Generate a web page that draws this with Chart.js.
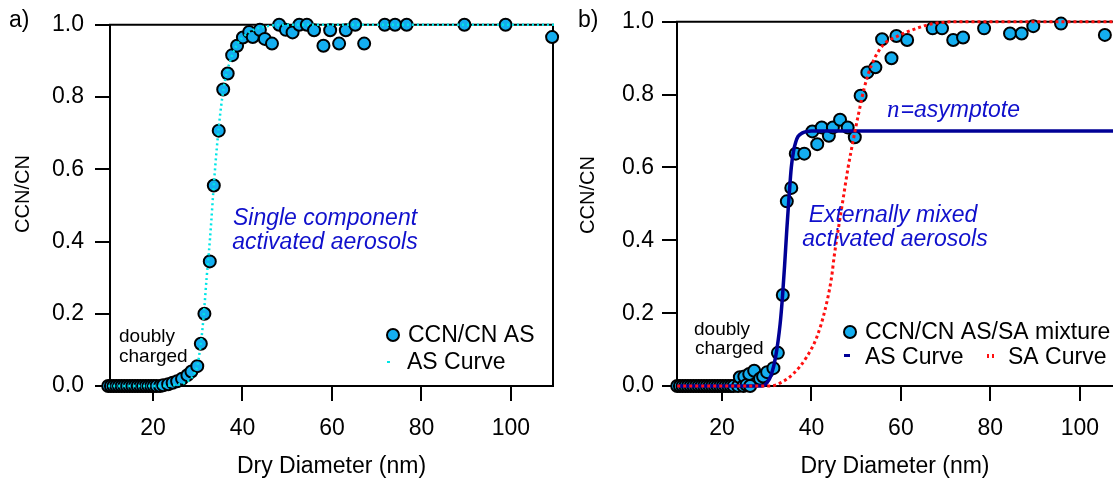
<!DOCTYPE html>
<html>
<head>
<meta charset="utf-8">
<script src="https://cdn.jsdelivr.net/npm/chart.js@4.4.1/dist/chart.umd.min.js"></script>
<style>
  html, body { margin: 0; padding: 0; background: #fff; overflow: hidden; }
  #wrap { position: relative; width: 1113px; height: 478px; }
  canvas { position: absolute; top: 0; }
  #chartA { left: 0; }
  #chartB { left: 560px; }
</style>
</head>
<body>
<div id="wrap">
  <canvas id="chartA" width="560" height="478"></canvas>
  <canvas id="chartB" width="553" height="478"></canvas>
</div>
<script>
// ---- data ----
// panel a: ammonium sulfate only
const aDiam = [10.0, 10.6, 11.2, 11.8, 12.4, 13.0, 13.6, 14.2, 14.8, 15.4, 16.0, 16.6, 17.2, 17.8, 18.4, 19.0, 19.6, 20.2, 20.8,
  21.6, 22.3, 23.4, 24.4, 25.4, 26.5, 27.7, 28.6, 29.9, 30.7, 31.5, 32.7, 33.6, 34.7, 35.7, 36.7, 37.7, 38.8, 40.1, 41.5,
  42.3, 43.9, 45.0, 46.6, 48.2, 49.7, 51.2, 52.7, 54.4, 56.0, 58.1, 59.6, 61.6, 63.1, 65.2, 67.2, 71.8, 74.1, 76.7, 89.6, 98.8, 109.2];
const aRatio = [0, 0, 0, 0, 0, 0, 0, 0, 0, 0, 0, 0, 0, 0, 0, 0, 0, 0, 0,
  0.0, 0.002, 0.005, 0.009, 0.013, 0.02, 0.03, 0.04, 0.055, 0.117, 0.2, 0.345, 0.555, 0.707, 0.821, 0.865, 0.916, 0.942, 0.965, 0.98,
  0.966, 0.986, 0.961, 0.948, 1.0, 0.986, 0.979, 1.0, 1.0, 0.985, 0.942, 0.985, 0.948, 0.985, 1.0, 0.948, 1.0, 1.0, 1.0, 1.0, 1.0, 0.966];
const aCurveDiam  = [10, 20, 26, 28, 29, 30, 30.5, 31, 31.5, 32, 32.5, 33, 33.5, 34, 34.5, 35, 35.5, 36, 37, 38, 39, 40, 42, 45, 50, 110];
const aCurveRatio = [0, 0, 0.005, 0.015, 0.03, 0.06, 0.1, 0.15, 0.22, 0.3, 0.37, 0.45, 0.54, 0.62, 0.69, 0.75, 0.8, 0.84, 0.89, 0.925, 0.95, 0.965, 0.983, 0.995, 1, 1];

// panel b: AS / SA external mixture
const bDiam = [10.0, 10.6, 11.2, 11.8, 12.4, 13.0, 13.6, 14.2, 14.8, 15.4, 16.0, 16.6, 17.2, 17.8, 18.4, 19.0, 19.6, 20.2, 20.8, 21.4, 22.0, 22.6,
  23.6, 24.0, 24.8, 25.0, 25.5, 26.1, 26.3, 27.2, 28.5, 29.2, 30.1, 31.5, 32.5, 33.6, 34.5, 35.5, 36.5, 38.4, 40.2, 41.3, 42.3, 43.9,
  44.8, 46.4, 48.1, 49.7, 51.0, 52.5, 54.3, 55.8, 57.9, 59.0, 61.4, 67.1, 69.2, 71.7, 73.9, 78.6, 84.4, 87.0, 89.6, 95.8, 105.6];
const bRatio = [0, 0, 0, 0, 0, 0, 0, 0, 0, 0, 0, 0, 0, 0, 0, 0, 0, 0, 0, 0, 0, 0,
  0, 0.024, 0.0, 0.026, 0.003, 0.033, 0.0, 0.042, 0.02, 0.026, 0.038, 0.049, 0.091, 0.25, 0.507, 0.544, 0.638, 0.638, 0.699, 0.664, 0.71, 0.687,
  0.71, 0.731, 0.71, 0.683, 0.797, 0.861, 0.875, 0.952, 0.9, 0.961, 0.95, 0.982, 0.982, 0.95, 0.957, 0.982, 0.968, 0.968, 0.988, 0.995, 0.964];
const bAsDiam  = [10, 29, 30, 31, 32, 33, 33.5, 34, 34.5, 35, 35.5, 36, 36.5, 37, 38, 39, 40, 110];
const bAsRatio = [0, 0, 0.008, 0.03, 0.08, 0.17, 0.24, 0.33, 0.43, 0.52, 0.6, 0.645, 0.67, 0.685, 0.695, 0.699, 0.7, 0.7];
const bSaDiam  = [10, 31, 33.3, 35.9, 38.9, 41.2, 43, 44.5, 45.1, 47, 48.2, 49.3, 50.5, 51.8, 53.4, 56, 59, 63.5, 67.2, 72, 110];
const bSaRatio = [0, 0, 0.01, 0.033, 0.079, 0.134, 0.207, 0.298, 0.357, 0.507, 0.6, 0.672, 0.745, 0.818, 0.88, 0.936, 0.959, 0.982, 0.995, 1, 1];

const xTicks = [20, 40, 60, 80, 100];
const yTicks = [0, 0.2, 0.4, 0.6, 0.8, 1.0];

const FONT = "'Liberation Sans', Arial, sans-serif";
const DOT = '#14aef0';
const CYAN = '#00e6e6';
const NAVY = '#000096';
const RED = '#ff1010';
const NOTE_BLUE = '#1010cc';

const toXY = (xs, ys) => xs.map((x, i) => ({ x: x, y: ys[i] }));

// frame on top (and right) of the plot area, under the data
const framePlugin = {
  id: 'frame',
  beforeDatasetsDraw(chart, args, opts) {
    const a = chart.chartArea, ctx = chart.ctx;
    ctx.save();
    ctx.strokeStyle = '#000';
    ctx.lineWidth = 2;
    ctx.beginPath();
    ctx.moveTo(a.left - 1, a.top);
    ctx.lineTo(a.right, a.top);
    if (opts.right) ctx.lineTo(a.right, a.bottom);
    ctx.stroke();
    ctx.restore();
  }
};

// annotations + hand placed legend
const notesPlugin = {
  id: 'notes',
  afterDraw(chart, args, opts) {
    const ctx = chart.ctx;
    ctx.save();
    (opts.texts || []).forEach(t => {
      ctx.font = t.font;
      ctx.fillStyle = t.color || '#000';
      ctx.textAlign = t.align || 'left';
      ctx.textBaseline = t.base || 'alphabetic';
      ctx.fillText(t.text, t.x, t.y);
    });
    (opts.legend || []).forEach(l => {
      if (l.kind === 'dot') {
        ctx.beginPath();
        ctx.arc(l.x, l.y, 6, 0, Math.PI * 2);
        ctx.fillStyle = DOT;
        ctx.fill();
        ctx.lineWidth = 2;
        ctx.strokeStyle = '#000';
        ctx.stroke();
      } else {
        ctx.fillStyle = l.color;
        l.marks.forEach(m => ctx.fillRect(m[0], m[1], m[2], m[3]));
      }
      ctx.font = '23px ' + FONT;
      ctx.fillStyle = '#000';
      ctx.textAlign = 'left';
      ctx.textBaseline = 'middle';
      ctx.fillText(l.text, l.tx, l.ty);
    });
    if (opts.asym) {
      const s = opts.asym;
      ctx.fillStyle = NOTE_BLUE;
      ctx.textBaseline = 'alphabetic';
      ctx.textAlign = 'left';
      ctx.font = 'italic 25px "Liberation Serif", serif';
      ctx.fillText('n', s.x, s.y);
      const w = ctx.measureText('n').width;
      ctx.font = 'italic 23px ' + FONT;
      ctx.fillText('=asymptote', s.x + w + 1, s.y);
    }
    // y axis title, drawn by hand
    if (opts.ytitle) {
      const t = opts.ytitle;
      ctx.translate(t.x, t.y);
      ctx.rotate(-Math.PI / 2);
      ctx.font = t.size + 'px ' + FONT;
      ctx.fillStyle = '#000';
      ctx.textAlign = 'center';
      ctx.textBaseline = 'middle';
      ctx.fillText('CCN/CN', 0, 0);
    }
    ctx.restore();
  }
};

function makePanel(id, cfg) {
  const el = document.getElementById(id);
  return new Chart(el, {
    type: 'scatter',
    data: { datasets: cfg.datasets },
    options: {
      responsive: false,
      animation: false,
      events: [],
      layout: { autoPadding: false, padding: { top: 20, right: cfg.padRight, bottom: 0, left: 0 } },
      plugins: {
        legend: { display: false },
        tooltip: { enabled: false },
        frame: { right: cfg.rightFrame },
        notes: cfg.notes
      },
      scales: {
        x: {
          type: 'linear',
          min: cfg.xMin,
          max: cfg.xMax,
          afterFit: s => { s.height = 92; },
          afterBuildTicks: s => { s.ticks = xTicks.map(v => ({ value: v })); },
          border: { display: true, color: '#000', width: 2 },
          grid: { drawOnChartArea: false, drawTicks: true, tickLength: 15, color: '#000', lineWidth: 2 },
          ticks: { color: '#000', font: { size: 23, family: FONT }, padding: 14, maxRotation: 0 },
          title: { display: true, text: 'Dry Diameter (nm)', color: '#000',
                   font: { size: 23, family: FONT, lineHeight: 1 }, padding: { top: 0, bottom: 0 } }
        },
        y: {
          type: 'linear',
          min: 0,
          max: 1,
          afterFit: s => { s.width = cfg.yWidth; },
          afterBuildTicks: s => { s.ticks = yTicks.map(v => ({ value: v })); },
          border: { display: true, color: '#000', width: 2 },
          grid: { drawOnChartArea: false, drawTicks: true, tickLength: 15, color: '#000', lineWidth: 2 },
          ticks: { color: '#000', font: { size: 23, family: FONT }, padding: cfg.yPad,
                   callback: v => v.toFixed(1) },
          title: { display: false }
        }
      }
    },
    plugins: [framePlugin, notesPlugin]
  });
}

const pointStyle = {
  showLine: false,
  pointRadius: 6,
  pointBorderWidth: 2,
  pointBorderColor: '#000',
  pointBackgroundColor: DOT,
  clip: false
};

makePanel('chartA', {
  xMin: 10.4, xMax: 109.4, padRight: 7, yWidth: 110, yPad: 11, rightFrame: true,
  datasets: [
    { label: 'AS Curve', data: toXY(aCurveDiam, aCurveRatio), showLine: true, pointRadius: 0,
      borderColor: CYAN, borderWidth: 2.5, borderDash: [2, 3], cubicInterpolationMode: 'monotone', clip: false },
    Object.assign({ label: 'CCN/CN AS', data: toXY(aDiam, aRatio) }, pointStyle)
  ],
  notes: {
    ytitle: { x: 23, y: 194, size: 20 },
    texts: [
      { text: 'a)', x: 9, y: 27, font: '23px ' + FONT },
      { text: 'Single component', x: 325, y: 225, font: 'italic 23px ' + FONT, color: NOTE_BLUE, align: 'center' },
      { text: 'activated aerosols', x: 325, y: 249, font: 'italic 23px ' + FONT, color: NOTE_BLUE, align: 'center' },
      { text: 'doubly', x: 119, y: 342, font: '19px ' + FONT },
      { text: 'charged', x: 119, y: 362, font: '19px ' + FONT }
    ],
    legend: [
      { kind: 'dot', x: 393, y: 335, text: 'CCN/CN AS', tx: 408, ty: 336 },
      { kind: 'line', color: CYAN, marks: [[387, 361, 3, 2]], text: 'AS Curve', tx: 407, ty: 363 }
    ]
  }
});

makePanel('chartB', {
  xMin: 9.95, xMax: 107.4, padRight: 0, yWidth: 117, yPad: 8, rightFrame: false,
  datasets: [
    { label: 'SA Curve', data: toXY(bSaDiam, bSaRatio), showLine: true, pointRadius: 0,
      borderColor: RED, borderWidth: 3, borderDash: [3, 3], cubicInterpolationMode: 'monotone', clip: false },
    { label: 'AS Curve', data: toXY(bAsDiam, bAsRatio), showLine: true, pointRadius: 0,
      borderColor: NAVY, borderWidth: 3.5, cubicInterpolationMode: 'monotone', clip: false },
    Object.assign({ label: 'CCN/CN AS/SA mixture', data: toXY(bDiam, bRatio) }, pointStyle)
  ],
  notes: {
    ytitle: { x: 28, y: 195, size: 20 },
    texts: [
      { text: 'b)', x: 18, y: 27, font: '23px ' + FONT },
      { text: 'Externally mixed', x: 333, y: 222, font: 'italic 23px ' + FONT, color: NOTE_BLUE, align: 'center' },
      { text: 'activated aerosols', x: 335, y: 246, font: 'italic 23px ' + FONT, color: NOTE_BLUE, align: 'center' },
      { text: 'doubly', x: 134, y: 335, font: '19px ' + FONT },
      { text: 'charged', x: 135, y: 354, font: '19px ' + FONT }
    ],
    asym: { x: 327, y: 117 },
    legend: [
      { kind: 'dot', x: 290, y: 332, text: 'CCN/CN AS/SA mixture', tx: 305, ty: 333 },
      { kind: 'line', color: NAVY, marks: [[284, 354, 6, 3]], text: 'AS Curve', tx: 305, ty: 358 },
      { kind: 'line', color: RED, marks: [[427, 354, 2, 4], [432, 354, 2, 4]], text: 'SA Curve', tx: 448, ty: 358 }
    ]
  }
});
</script>
</body>
</html>
